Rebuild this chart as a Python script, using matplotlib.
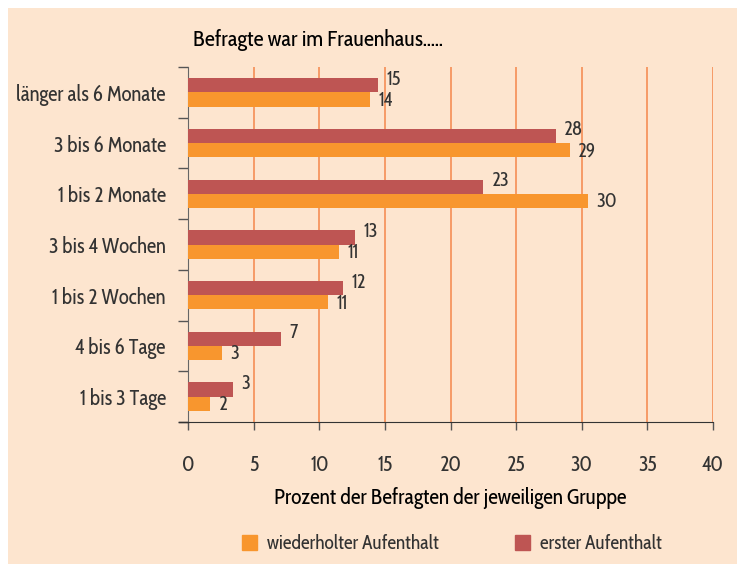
import matplotlib
matplotlib.use("Agg")
import matplotlib.pyplot as plt
import numpy as np
from matplotlib.patches import Rectangle, Patch

# Data (percent of respondents per group)
categories = ["länger als 6 Monate", "3 bis 6 Monate", "1 bis 2 Monate",
              "3 bis 4 Wochen", "1 bis 2 Wochen", "4 bis 6 Tage", "1 bis 3 Tage"]
erster = [14.5, 28.0, 22.5, 12.7, 11.8, 7.1, 3.4]
wiederholt = [13.9, 29.1, 30.5, 11.5, 10.7, 2.6, 1.7]
erster_labels = ["15", "28", "23", "13", "12", "7", "3"]
wiederholt_labels = ["14", "29", "30", "11", "11", "3", "2"]
xticks = [0, 5, 10, 15, 20, 25, 30, 35, 40]

plt.rcParams['font.family'] = ['Cabin Condensed', 'DejaVu Sans']
txt = '#333333'
bg = '#FDE5CF'
red = '#BE5553'
orange = '#F8962E'
grid_c = '#F5874A'

W, H = 737, 564
fig = plt.figure(figsize=(W / 100, H / 100), dpi=100)
fig.patch.set_facecolor('white')
fig.patches.append(Rectangle((8 / W, 0), 1, 1 - 8 / H, transform=fig.transFigure,
                             facecolor=bg, edgecolor='none', zorder=-10))

ax = fig.add_axes([188 / W, 1 - 422 / H, (713 - 188) / W, (422 - 67) / H])
ax.set_facecolor('none')

y = np.arange(len(categories))
h = 0.28
ax.barh(y - h / 2, erster, height=h, color=red, zorder=3)
ax.barh(y + h / 2, wiederholt, height=h, color=orange, zorder=3)

for i in range(len(categories)):
    ax.annotate(erster_labels[i], (erster[i], y[i] - h / 2), xytext=(6, 4),
                textcoords='offset points', va='center', ha='left',
                fontsize=14, color=txt)
    ax.annotate(wiederholt_labels[i], (wiederholt[i], y[i] + h / 2), xytext=(6, -1),
                textcoords='offset points', va='center', ha='left',
                fontsize=14, color=txt)

ax.set_xlim(0, 40)
ax.set_ylim(len(categories) - 0.5, -0.5)
ax.set_xticks(xticks)
for xv in xticks[1:]:
    ax.axvline(xv, color=grid_c, lw=1.1, zorder=1)

ax.set_yticks(y)
ax.set_yticklabels(categories, fontsize=15, color=txt)
ax.set_yticks(np.arange(-0.5, len(categories)), minor=True)
ax.tick_params(axis='y', which='major', length=0, pad=16)
ax.tick_params(axis='y', which='minor', length=7, color='#555555', width=1)
ax.tick_params(axis='x', length=6, color='#555555', width=1, pad=17,
               labelsize=15, labelcolor=txt)

for s in ['top', 'right']:
    ax.spines[s].set_visible(False)
ax.spines['left'].set_color('#666666')
ax.spines['bottom'].set_color('#333333')
ax.plot([-9 / 525, 0], [0, 0], transform=ax.transAxes, color='#333333',
        lw=1, clip_on=False)

ax.set_xlabel("Prozent der Befragten der jeweiligen Gruppe", fontsize=15.5,
              color='black', labelpad=8)
fig.text(193 / W, 1 - 40 / H, "Befragte war im Frauenhaus.....", fontsize=16,
         color='black', va='center', ha='left')

handles = [Patch(color=orange, label="wiederholter Aufenthalt"),
           Patch(color=red, label="erster Aufenthalt")]
fig.legend(handles=handles, loc='center', bbox_to_anchor=(452 / W, 1 - 544 / H),
           ncol=2, frameon=False, fontsize=14, handlelength=0.8, handleheight=0.8,
           columnspacing=3.9, handletextpad=0.5, labelcolor=txt)

fig.savefig("out.png", dpi=100, facecolor=fig.get_facecolor())
